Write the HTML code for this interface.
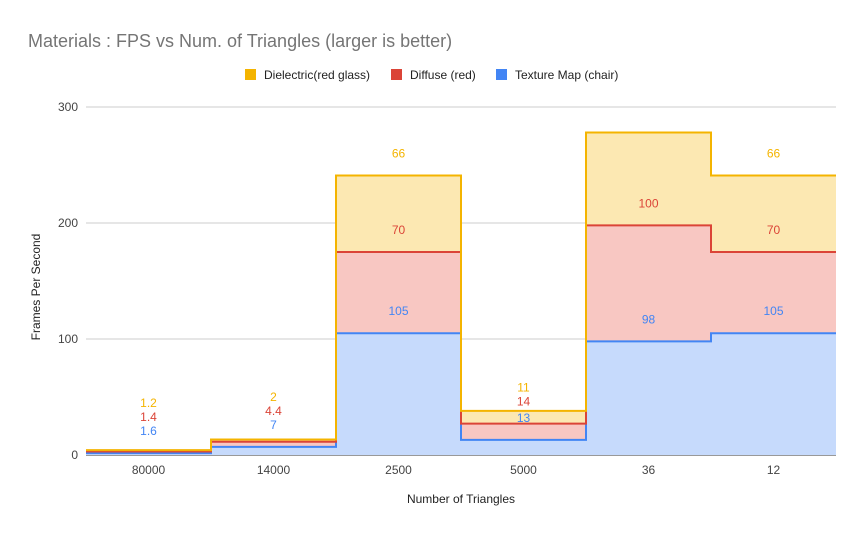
<!DOCTYPE html>
<html><head><meta charset="utf-8">
<style>
body{margin:0;background:#fff;font-family:"Liberation Sans",Arial,sans-serif;}
svg{display:block}
</style></head>
<body>
<svg id="chart" width="863" height="534">
<rect width="863" height="534" fill="#fff"/>
<text x="28" y="47" font-size="18" fill="#757575">Materials : FPS vs Num. of Triangles (larger is better)</text>
<g id="legend" font-size="12" fill="#222">
<rect x="245" y="69" width="11" height="11" fill="#f4b400"/>
<text x="264" y="79">Dielectric(red glass)</text>
<rect x="391" y="69" width="11" height="11" fill="#db4437"/>
<text x="410" y="79">Diffuse (red)</text>
<rect x="496" y="69" width="11" height="11" fill="#4285f4"/>
<text x="515" y="79">Texture Map (chair)</text>
</g>
<g id="grid"></g>
<g id="areas"></g>
<g id="labels"></g>
<g id="xaxis"></g>
<text x="40" y="287" font-size="12" fill="#222" text-anchor="middle" transform="rotate(-90 40 287)">Frames Per Second</text>
<text x="461" y="503" font-size="12" fill="#222" text-anchor="middle">Number of Triangles</text>
</svg>
<script>
const categories = ["80000","14000","2500","5000","36","12"];
const texture = [1.6, 7, 105, 13, 98, 105];
const diffuse = [1.4, 4.4, 70, 14, 100, 70];
const dielectric = [1.2, 2, 66, 11, 80, 66];
const dielectricLabels = ["1.2","2","66","11","","66"];
const yTicks = [0, 100, 200, 300];

const NS="http://www.w3.org/2000/svg";
const x0=86,x1=836,y0=455,yTop=107,yMax=300;
const bw=(x1-x0)/categories.length;
const y=v=>y0-(v/yMax)*(y0-yTop);
const xl=i=>x0+i*bw, xc=i=>x0+(i+0.5)*bw;
function mk(tag,attrs,parent){const e=document.createElementNS(NS,tag);for(const k in attrs)e.setAttribute(k,attrs[k]);parent.appendChild(e);return e;}
const grid=document.getElementById('grid');
yTicks.forEach(t=>{
  const l=mk('line',{x1:x0,x2:x1,y1:y(t),y2:y(t),stroke:t===0?'#333':'#ccc','stroke-width':1},grid);
  
  
  const tx=mk('text',{x:78,y:y(t)+4,'font-size':12,fill:'#444','text-anchor':'end'},grid);
  tx.textContent=t;
  
  
});
const series=[
 {name:'texture',vals:texture,line:'#4285f4',fill:'#c6dafc',lab:texture.map(String)},
 {name:'diffuse',vals:diffuse,line:'#db4437',fill:'#f8c7c2',lab:diffuse.map(String)},
 {name:'dielectric',vals:dielectric,line:'#f4b400',fill:'#fce8b2',lab:dielectricLabels}
];
const base=categories.map(()=>0);
const tops=[];
series.forEach(s=>{
  const top=base.map((b,i)=>b+s.vals[i]);
  let up=[],down=[];
  categories.forEach((c,i)=>{up.push([xl(i),y(top[i])],[xl(i+1),y(top[i])]);});
  for(let i=categories.length-1;i>=0;i--){down.push([xl(i+1),y(base[i])],[xl(i),y(base[i])]);}
  tops.push({s,top:top.slice()});
  s.poly=up.concat(down).map(p=>p.join(',')).join(' ');
  s.linePts=up.map(p=>p.join(',')).join(' ');
  for(let i=0;i<base.length;i++)base[i]=top[i];
});
const areas=document.getElementById('areas');
series.slice().reverse().forEach(s=>{
  const p=mk('polygon',{points:s.poly,fill:s.fill},areas);
  
  
});
series.forEach(s=>{
  const p=mk('polyline',{points:s.linePts,fill:'none',stroke:s.line,'stroke-width':2},areas);
  
  
});
const labels=document.getElementById('labels');
categories.forEach((c,i)=>{
  let prev=1e9;
  tops.forEach(({s,top})=>{
    const ly=Math.min(y(top[i])-22,prev-14);
    prev=ly;
    if(!s.lab[i])return;
    const t=mk('text',{x:xc(i),y:ly+4,'font-size':12,fill:s.line,'text-anchor':'middle'},labels);
    t.textContent=s.lab[i];
    
    
  });
});
const xa=document.getElementById('xaxis');
categories.forEach((c,i)=>{
  const t=mk('text',{x:xc(i),y:474,'font-size':12,fill:'#444','text-anchor':'middle'},xa);
  t.textContent=c;
  
  
});
</script>
</body></html>
